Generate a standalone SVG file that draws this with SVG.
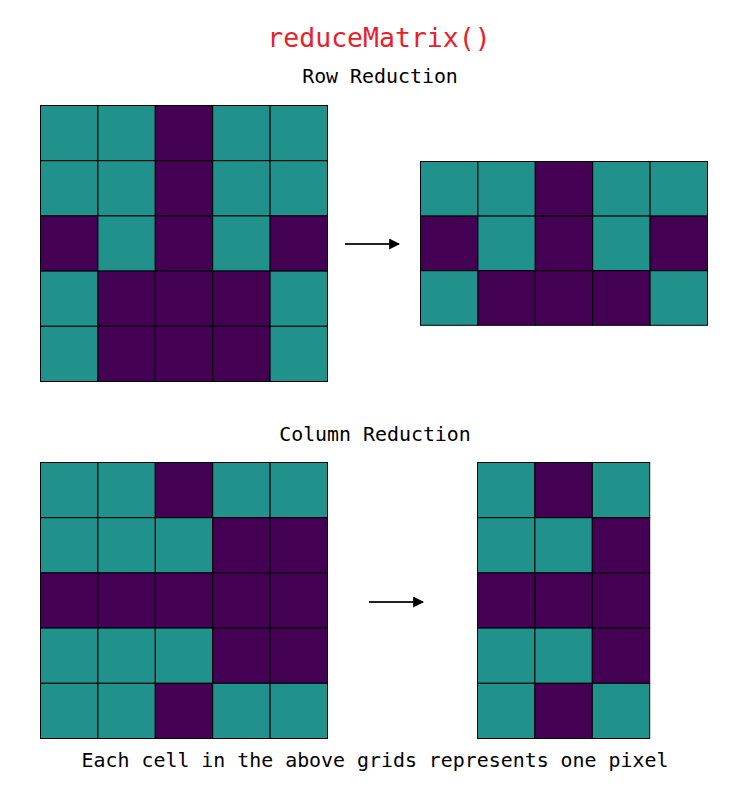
<svg xmlns="http://www.w3.org/2000/svg" width="755" height="792" viewBox="0 0 755 792">
<style>
text{font-family:"DejaVu Sans Mono","Liberation Mono",monospace;text-anchor:middle;fill:#000}
.title{font-size:26.5px;fill:#e8202a}
.lbl{font-size:19.9px}
.t{fill:#21918c;stroke:#000;stroke-width:1}
.p{fill:#440154;stroke:#000;stroke-width:1}
.conn{stroke:#222;stroke-width:2;fill:none}
</style>
<defs>
<marker id="ah" viewBox="0 0 10 10" refX="9" refY="5" markerWidth="5.5" markerHeight="5.5" orient="auto" markerUnits="strokeWidth">
<path d="M0,0 L10,5 L0,10 z" fill="#000"/>
</marker>
</defs>
<rect width="755" height="792" fill="#fff"/>
<text class="title" x="379" y="47">reduceMatrix()</text>
<text class="lbl" x="380" y="83">Row Reduction</text>
<text class="lbl" x="375" y="441">Column Reduction</text>
<text class="lbl" x="375" y="767">Each cell in the above grids represents one pixel</text>

<g id="grid-row-original" transform="translate(40.5,105.5)">
<rect class="t" x="0" y="0" width="57.4" height="55.2"/><rect class="t" x="57.4" y="0" width="57.4" height="55.2"/><rect class="p" x="114.8" y="0" width="57.4" height="55.2"/><rect class="t" x="172.2" y="0" width="57.4" height="55.2"/><rect class="t" x="229.6" y="0" width="57.4" height="55.2"/>
<rect class="t" x="0" y="55.2" width="57.4" height="55.2"/><rect class="t" x="57.4" y="55.2" width="57.4" height="55.2"/><rect class="p" x="114.8" y="55.2" width="57.4" height="55.2"/><rect class="t" x="172.2" y="55.2" width="57.4" height="55.2"/><rect class="t" x="229.6" y="55.2" width="57.4" height="55.2"/>
<rect class="p" x="0" y="110.4" width="57.4" height="55.2"/><rect class="t" x="57.4" y="110.4" width="57.4" height="55.2"/><rect class="p" x="114.8" y="110.4" width="57.4" height="55.2"/><rect class="t" x="172.2" y="110.4" width="57.4" height="55.2"/><rect class="p" x="229.6" y="110.4" width="57.4" height="55.2"/>
<rect class="t" x="0" y="165.6" width="57.4" height="55.2"/><rect class="p" x="57.4" y="165.6" width="57.4" height="55.2"/><rect class="p" x="114.8" y="165.6" width="57.4" height="55.2"/><rect class="p" x="172.2" y="165.6" width="57.4" height="55.2"/><rect class="t" x="229.6" y="165.6" width="57.4" height="55.2"/>
<rect class="t" x="0" y="220.8" width="57.4" height="55.2"/><rect class="p" x="57.4" y="220.8" width="57.4" height="55.2"/><rect class="p" x="114.8" y="220.8" width="57.4" height="55.2"/><rect class="p" x="172.2" y="220.8" width="57.4" height="55.2"/><rect class="t" x="229.6" y="220.8" width="57.4" height="55.2"/>
</g>

<g id="grid-row-reduced" transform="translate(420.5,161.5)">
<rect class="t" x="0" y="0" width="57.4" height="54.6"/><rect class="t" x="57.4" y="0" width="57.4" height="54.6"/><rect class="p" x="114.8" y="0" width="57.4" height="54.6"/><rect class="t" x="172.2" y="0" width="57.4" height="54.6"/><rect class="t" x="229.6" y="0" width="57.4" height="54.6"/>
<rect class="p" x="0" y="54.6" width="57.4" height="54.6"/><rect class="t" x="57.4" y="54.6" width="57.4" height="54.6"/><rect class="p" x="114.8" y="54.6" width="57.4" height="54.6"/><rect class="t" x="172.2" y="54.6" width="57.4" height="54.6"/><rect class="p" x="229.6" y="54.6" width="57.4" height="54.6"/>
<rect class="t" x="0" y="109.2" width="57.4" height="54.6"/><rect class="p" x="57.4" y="109.2" width="57.4" height="54.6"/><rect class="p" x="114.8" y="109.2" width="57.4" height="54.6"/><rect class="p" x="172.2" y="109.2" width="57.4" height="54.6"/><rect class="t" x="229.6" y="109.2" width="57.4" height="54.6"/>
</g>

<g id="grid-col-original" transform="translate(40.5,462.5)">
<rect class="t" x="0" y="0" width="57.4" height="55.2"/><rect class="t" x="57.4" y="0" width="57.4" height="55.2"/><rect class="p" x="114.8" y="0" width="57.4" height="55.2"/><rect class="t" x="172.2" y="0" width="57.4" height="55.2"/><rect class="t" x="229.6" y="0" width="57.4" height="55.2"/>
<rect class="t" x="0" y="55.2" width="57.4" height="55.2"/><rect class="t" x="57.4" y="55.2" width="57.4" height="55.2"/><rect class="t" x="114.8" y="55.2" width="57.4" height="55.2"/><rect class="p" x="172.2" y="55.2" width="57.4" height="55.2"/><rect class="p" x="229.6" y="55.2" width="57.4" height="55.2"/>
<rect class="p" x="0" y="110.4" width="57.4" height="55.2"/><rect class="p" x="57.4" y="110.4" width="57.4" height="55.2"/><rect class="p" x="114.8" y="110.4" width="57.4" height="55.2"/><rect class="p" x="172.2" y="110.4" width="57.4" height="55.2"/><rect class="p" x="229.6" y="110.4" width="57.4" height="55.2"/>
<rect class="t" x="0" y="165.6" width="57.4" height="55.2"/><rect class="t" x="57.4" y="165.6" width="57.4" height="55.2"/><rect class="t" x="114.8" y="165.6" width="57.4" height="55.2"/><rect class="p" x="172.2" y="165.6" width="57.4" height="55.2"/><rect class="p" x="229.6" y="165.6" width="57.4" height="55.2"/>
<rect class="t" x="0" y="220.8" width="57.4" height="55.2"/><rect class="t" x="57.4" y="220.8" width="57.4" height="55.2"/><rect class="p" x="114.8" y="220.8" width="57.4" height="55.2"/><rect class="t" x="172.2" y="220.8" width="57.4" height="55.2"/><rect class="t" x="229.6" y="220.8" width="57.4" height="55.2"/>
</g>

<g id="grid-col-reduced" transform="translate(477.5,462.5)">
<rect class="t" x="0" y="0" width="57.4" height="55.2"/><rect class="p" x="57.4" y="0" width="57.4" height="55.2"/><rect class="t" x="114.8" y="0" width="57.4" height="55.2"/>
<rect class="t" x="0" y="55.2" width="57.4" height="55.2"/><rect class="t" x="57.4" y="55.2" width="57.4" height="55.2"/><rect class="p" x="114.8" y="55.2" width="57.4" height="55.2"/>
<rect class="p" x="0" y="110.4" width="57.4" height="55.2"/><rect class="p" x="57.4" y="110.4" width="57.4" height="55.2"/><rect class="p" x="114.8" y="110.4" width="57.4" height="55.2"/>
<rect class="t" x="0" y="165.6" width="57.4" height="55.2"/><rect class="t" x="57.4" y="165.6" width="57.4" height="55.2"/><rect class="p" x="114.8" y="165.6" width="57.4" height="55.2"/>
<rect class="t" x="0" y="220.8" width="57.4" height="55.2"/><rect class="p" x="57.4" y="220.8" width="57.4" height="55.2"/><rect class="t" x="114.8" y="220.8" width="57.4" height="55.2"/>
</g>

<g id="connectors">
<line class="conn" x1="345" y1="244" x2="399" y2="244" marker-end="url(#ah)"/>
<line class="conn" x1="369" y1="602" x2="423" y2="602" marker-end="url(#ah)"/>
</g>
</svg>
